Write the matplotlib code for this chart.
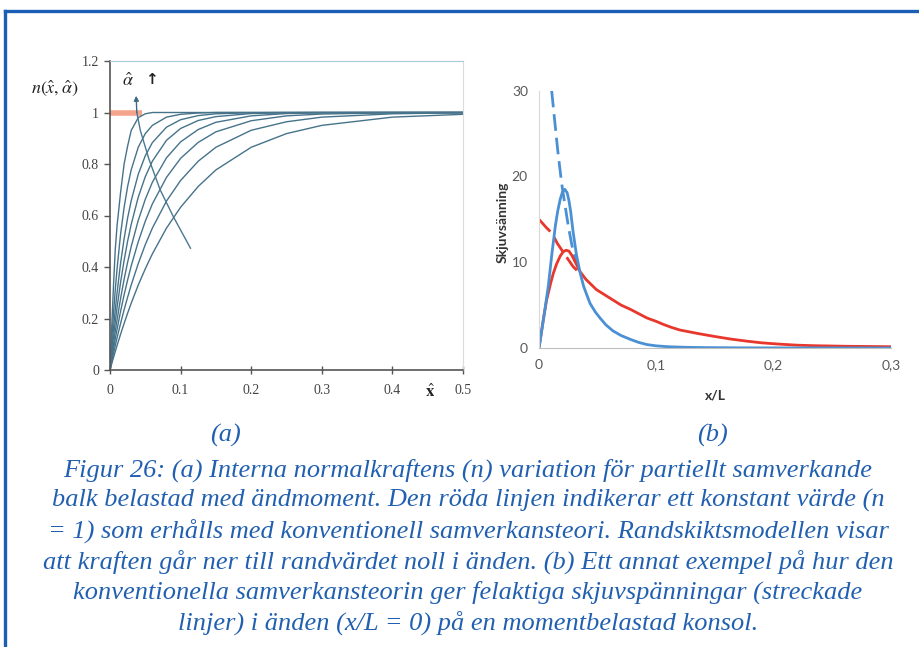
import numpy as np
import matplotlib
matplotlib.use('Agg')
import matplotlib.pyplot as plt
from matplotlib.lines import Line2D

plt.rcParams['mathtext.fontset'] = 'stix'

# (a) normalkraft n(x, alpha) - curves
x_a = [0, 0.0025, 0.005, 0.0075, 0.01, 0.015, 0.02, 0.025, 0.03, 0.04, 0.05,
       0.06, 0.08, 0.1, 0.125, 0.15, 0.2, 0.25, 0.3, 0.4, 0.5]
n_curves = [
    [0, 0.17, 0.33, 0.47, 0.56, 0.69, 0.80, 0.87, 0.93, 0.98, 0.995,
     1.0, 1.0, 1.0, 1.0, 1.0, 1.0, 1.0, 1.0, 1.0, 1.0],
    [0, 0.118, 0.221, 0.313, 0.393, 0.528, 0.632, 0.713, 0.777, 0.865, 0.918,
     0.950, 0.982, 0.993, 0.998, 1.0, 1.0, 1.0, 1.0, 1.0, 1.0],
    [0, 0.085, 0.164, 0.235, 0.300, 0.415, 0.510, 0.591, 0.657, 0.760, 0.832,
     0.883, 0.943, 0.972, 0.988, 0.995, 0.999, 1.0, 1.0, 1.0, 1.0],
    [0, 0.067, 0.130, 0.188, 0.243, 0.341, 0.426, 0.501, 0.565, 0.671, 0.751,
     0.811, 0.892, 0.938, 0.969, 0.984, 0.996, 0.999, 1.0, 1.0, 1.0],
    [0, 0.053, 0.103, 0.150, 0.195, 0.278, 0.353, 0.419, 0.479, 0.581, 0.663,
     0.729, 0.824, 0.886, 0.934, 0.962, 0.987, 0.996, 0.999, 1.0, 1.0],
    [0, 0.042, 0.083, 0.121, 0.158, 0.228, 0.292, 0.350, 0.404, 0.498, 0.578,
     0.645, 0.748, 0.822, 0.884, 0.925, 0.968, 0.987, 0.994, 0.999, 1.0],
    [0, 0.033, 0.065, 0.095, 0.125, 0.181, 0.234, 0.283, 0.330, 0.413, 0.487,
     0.551, 0.656, 0.736, 0.811, 0.865, 0.931, 0.964, 0.982, 0.995, 0.999],
    [0, 0.025, 0.049, 0.072, 0.095, 0.139, 0.181, 0.221, 0.259, 0.330, 0.393,
     0.451, 0.551, 0.632, 0.713, 0.777, 0.865, 0.918, 0.950, 0.982, 0.993],
]
red_x = [0, 0.045]
red_n = [1, 1]
arrow_x = [0.114, 0.09, 0.071, 0.055, 0.043, 0.038, 0.037]
arrow_n = [0.473, 0.594, 0.70, 0.82, 0.93, 1.0, 1.065]
ticks_a_x = [0, 0.1, 0.2, 0.3, 0.4, 0.5]
ticks_a_y = [0, 0.2, 0.4, 0.6, 0.8, 1, 1.2]
labels_a_y = ['0', '0.2', '0.4', '0.6', '0.8', '1', '1.2']

# (b) skjuvspanning
blue_x = [0, 0.004, 0.008, 0.011, 0.014, 0.016, 0.018, 0.02, 0.022, 0.024,
          0.0255, 0.027, 0.029, 0.032, 0.035, 0.038, 0.041, 0.0435, 0.048,
          0.052, 0.057, 0.063, 0.07, 0.078, 0.085, 0.092, 0.1, 0.11, 0.125,
          0.14, 0.17, 0.2, 0.3]
blue_y = [0, 3.5, 7.3, 11.0, 14.3, 16.0, 17.3, 18.2, 18.5, 18.1,
          17.2, 15.9, 13.6, 10.8, 8.8, 7.2, 6.1, 5.2, 4.2,
          3.5, 2.7, 2.0, 1.45, 1.0, 0.65, 0.4, 0.25, 0.15, 0.08,
          0.05, 0.02, 0.01, 0.0]
blue_dash_x = [0.0108, 0.013, 0.016, 0.0193, 0.022, 0.025, 0.028, 0.032, 0.035]
blue_dash_y = [30, 27, 23, 19.2, 16.8, 14.2, 12.0, 9.9, 8.8]
red_b_x = [0, 0.004, 0.0065, 0.01, 0.0122, 0.015, 0.018, 0.0205, 0.023, 0.0255,
           0.028, 0.031, 0.035, 0.04, 0.049, 0.056, 0.063, 0.07, 0.078, 0.085,
           0.092, 0.1, 0.106, 0.113, 0.12, 0.135, 0.149, 0.163, 0.177, 0.19,
           0.205, 0.22, 0.234, 0.262, 0.3]
red_b_y = [0, 3.6, 5.6, 7.6, 8.7, 9.8, 10.7, 11.2, 11.4, 11.3,
           10.8, 10.0, 8.9, 8.0, 6.8, 6.2, 5.6, 5.0, 4.5, 4.0,
           3.5, 3.1, 2.75, 2.4, 2.1, 1.7, 1.36, 1.05, 0.8, 0.6,
           0.45, 0.33, 0.27, 0.2, 0.15]
red_dash_x = [0, 0.0065, 0.011, 0.0156, 0.021, 0.024, 0.029, 0.035]
red_dash_y = [15, 14.0, 13.4, 12.2, 11.1, 10.5, 9.5, 8.7]
ticks_b_x = [0, 0.1, 0.2, 0.3]
labels_b_x = ['0', '0,1', '0,2', '0,3']
ticks_b_y = [0, 10, 20, 30]

caption = [
    "Figur 26: (a) Interna normalkraftens (n) variation för partiellt samverkande",
    "balk belastad med ändmoment. Den röda linjen indikerar ett konstant värde (n",
    "= 1) som erhålls med konventionell samverkansteori. Randskiktsmodellen visar",
    "att kraften går ner till randvärdet noll i änden. (b) Ett annat exempel på hur den",
    "konventionella samverkansteorin ger felaktiga skjuvspänningar (streckade",
    "linjer) i änden (x/L = 0) på en momentbelastad konsol.",
]

W, H = 920, 647
fig = plt.figure(figsize=(9.2, 6.47), dpi=100)
cap_blue = '#2160b0'

# frame
fig.add_artist(Line2D([5 / W, 1], [1 - 11 / H, 1 - 11 / H], color='#1b5eb5', lw=2.4))
fig.add_artist(Line2D([5 / W, 5 / W], [0, 1 - 11 / H], color='#1b5eb5', lw=2.4))

# ---- (a)
ax1 = fig.add_axes([110 / W, 1 - 370 / H, 353 / W, 309 / H])
ax1.plot(red_x, red_n, color='#f4a38c', lw=4, solid_capstyle='butt', zorder=1)
for n in n_curves:
    ax1.plot(x_a, n, color='#46738a', lw=1.0, zorder=2)
ax1.plot(arrow_x[:-1], arrow_n[:-1], color='#4a7890', lw=1.0, zorder=3)
ax1.annotate('', xy=(arrow_x[-1], arrow_n[-1]), xytext=(arrow_x[-2], arrow_n[-2]),
             arrowprops=dict(arrowstyle='-|>', color='#3f6a80', lw=1.0,
                             mutation_scale=7, shrinkA=0, shrinkB=0))
ax1.set_xlim(0, 0.5)
ax1.set_ylim(0, 1.2)
ax1.set_xticks(ticks_a_x)
ax1.set_xticklabels([str(t) for t in ticks_a_x])
ax1.set_yticks(ticks_a_y)
ax1.set_yticklabels(labels_a_y)
ax1.tick_params(axis='x', direction='inout', length=6, width=1, color='#555',
                pad=7, labelsize=10, labelcolor='#444')
ax1.tick_params(axis='y', direction='out', length=4, width=1, color='#555',
                pad=4, labelsize=10, labelcolor='#444')
for lab in ax1.get_xticklabels() + ax1.get_yticklabels():
    lab.set_family('Liberation Serif')
ax1.spines['left'].set_color('#555')
ax1.spines['bottom'].set_color('#555')
ax1.spines['left'].set_linewidth(1.2)
ax1.spines['bottom'].set_linewidth(1.2)
ax1.spines['top'].set_color('#a8c8dc')
ax1.spines['right'].set_color('#dcdcdc')
ax1.text(-0.156, 0.913, r'$n(\hat{x},\hat{\alpha})$', transform=ax1.transAxes,
         ha='center', va='center', fontsize=13, color='#222')
ax1.text(0.026, 1.122, r'$\hat{\alpha}$', ha='center', va='center', fontsize=13,
         color='#222')
ax1.text(0.059, 1.128, '↑', ha='center', va='center', fontsize=11,
         fontweight='bold', color='#222')
ax1.text(0.453, -0.071, r'$\hat{\mathbf{x}}$', transform=ax1.get_xaxis_transform(),
         ha='center', va='center', fontsize=12, color='#222')

# ---- (b)
ax2 = fig.add_axes([539 / W, 1 - 348 / H, 352 / W, 257.3 / H])
ax2.plot(red_dash_x, red_dash_y, color='#e8372c', lw=2.0, dashes=(6, 2.5))
ax2.plot(blue_dash_x, blue_dash_y, color='#4a90d4', lw=2.0, dashes=(6, 2.5))
ax2.plot(red_b_x, red_b_y, color='#e8372c', lw=2.0)
ax2.plot(blue_x, blue_y, color='#4a90d4', lw=2.0)
ax2.set_xlim(0, 0.3)
ax2.set_ylim(0, 30)
ax2.set_xticks(ticks_b_x)
ax2.set_xticklabels(labels_b_x)
ax2.set_yticks(ticks_b_y)
ax2.tick_params(length=0, labelsize=10, labelcolor='#595959', pad=8)
for lab in ax2.get_xticklabels() + ax2.get_yticklabels():
    lab.set_family('Lato')
for s in ['top', 'right']:
    ax2.spines[s].set_visible(False)
ax2.spines['left'].set_color('#d9d9d9')
ax2.spines['bottom'].set_color('#bfbfbf')
ax2.text(-0.102, 0.49, 'Skjuvsänning', transform=ax2.transAxes, rotation=90,
         ha='center', va='center', fontsize=10, fontweight='bold',
         family='Lato', color='#333')
ax2.text(0.5, -0.183, 'x/L', transform=ax2.transAxes, ha='center', va='center',
         fontsize=10, fontweight='bold', family='Lato', color='#333')

# ---- caption
fig.text(225 / W, 1 - 435 / H, '(a)', ha='center', va='center', fontsize=19,
         style='italic', family='Liberation Serif', color=cap_blue)
fig.text(712 / W, 1 - 435 / H, '(b)', ha='center', va='center', fontsize=19,
         style='italic', family='Liberation Serif', color=cap_blue)
line_y = [470, 500.5, 531, 561.5, 592, 622.5]
for txt, yy in zip(caption, line_y):
    fig.text(468 / W, 1 - yy / H, txt, ha='center', va='center', fontsize=19,
             style='italic', family='Liberation Serif', color=cap_blue)

fig.savefig('out.png', dpi=100)
